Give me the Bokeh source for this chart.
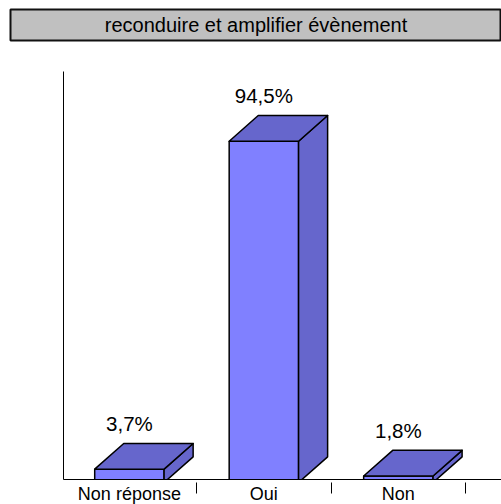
from bokeh.plotting import figure
from bokeh.models import Range1d, FixedTicker
from bokeh.layouts import column
from bokeh.embed import file_html
from bokeh.resources import INLINE
from bokeh.core.properties import value

# ---- data ----
title_text = "reconduire et amplifier évènement"
categories = ["Non réponse", "Oui", "Non"]
percent = [3.7, 94.5, 1.8]

# ---- style ----
FONT = "Liberation Sans"
FRONT = "#8080FF"
SHADE = "#6666CC"
HALF_W = 0.258      # half bar width (category units)
DEPTH_X = 0.216     # 3D depth, category units
DEPTH_Y = 7.1       # 3D depth, percent units

# ---- title box ----
t = figure(width=501, height=48, x_range=Range1d(0, 1), y_range=Range1d(0, 1),
           output_backend="svg", toolbar_location=None, frame_align=False,
           min_border_left=10, min_border_right=0, min_border_top=9, min_border_bottom=8,
           x_axis_location=None, y_axis_location=None,
           background_fill_color="#C0C0C0", border_fill_color="white",
           outline_line_color="#111111", outline_line_width=2)
t.xgrid.visible = False
t.ygrid.visible = False
t.text(x=[0.5], y=[0.5], text=[title_text], text_align="center", text_baseline="middle",
       text_font=value(FONT), text_font_size="20px", text_color="black")

# ---- main chart ----
p = figure(frame_width=438, frame_height=408,
           x_range=Range1d(0.01, 3.267), y_range=Range1d(0.83, 113.8),
           output_backend="svg", toolbar_location=None, frame_align=False,
           min_border_left=63, min_border_right=0, min_border_top=23, min_border_bottom=25,
           background_fill_color="white", border_fill_color="white",
           outline_line_color=None)
p.xgrid.visible = False
p.ygrid.visible = False

n = len(categories)
centers = [i + 0.5 for i in range(n)]
lefts = [c - HALF_W for c in centers]
rights = [c + HALF_W for c in centers]

# front faces
p.quad(left=lefts, right=rights, bottom=[0] * n, top=percent,
       fill_color=FRONT, line_color="black", line_width=1.5)

# top faces and side faces
top_xs, top_ys, side_xs, side_ys = [], [], [], []
for l, r, v in zip(lefts, rights, percent):
    top_xs.append([l, r, r + DEPTH_X, l + DEPTH_X])
    top_ys.append([v, v, v + DEPTH_Y, v + DEPTH_Y])
    side_xs.append([r, r + DEPTH_X, r + DEPTH_X, r])
    side_ys.append([0, DEPTH_Y, v + DEPTH_Y, v])
p.patches(xs=side_xs, ys=side_ys, fill_color=SHADE, line_color="black", line_width=1.5,
          line_join="round")
p.patches(xs=top_xs, ys=top_ys, fill_color=SHADE, line_color="black", line_width=1.5,
          line_join="round")

# value labels
labels = [f"{v:.1f}".replace(".", ",") + "%" for v in percent]
p.text(x=centers, y=[v + DEPTH_Y for v in percent], text=labels, y_offset=-20,
       text_align="center", text_baseline="middle",
       text_font=value(FONT), text_font_size="20.5px", text_color="black")

# x axis: labels at centres, ticks at category boundaries
xa = p.xaxis[0]
xa.ticker = FixedTicker(ticks=centers, minor_ticks=[i + 1 for i in range(n)])
xa.major_label_overrides = {c: cat for c, cat in zip(centers, categories)}
xa.major_tick_in = 0
xa.major_tick_out = 0
xa.minor_tick_in = -3
xa.minor_tick_out = 14
xa.minor_tick_line_color = "black"
xa.minor_tick_line_width = 1
xa.axis_line_color = "black"
xa.axis_line_width = 1
xa.major_label_standoff = -10
xa.major_label_text_font = FONT
xa.major_label_text_font_size = "18px"
xa.major_label_text_color = "black"

ya = p.yaxis[0]
ya.ticker = FixedTicker(ticks=[])
ya.major_tick_line_color = None
ya.minor_tick_line_color = None
ya.axis_line_color = "black"
ya.axis_line_width = 1

layout = column(t, p, spacing=0)
open("out.html", "w").write(file_html(layout, INLINE))
